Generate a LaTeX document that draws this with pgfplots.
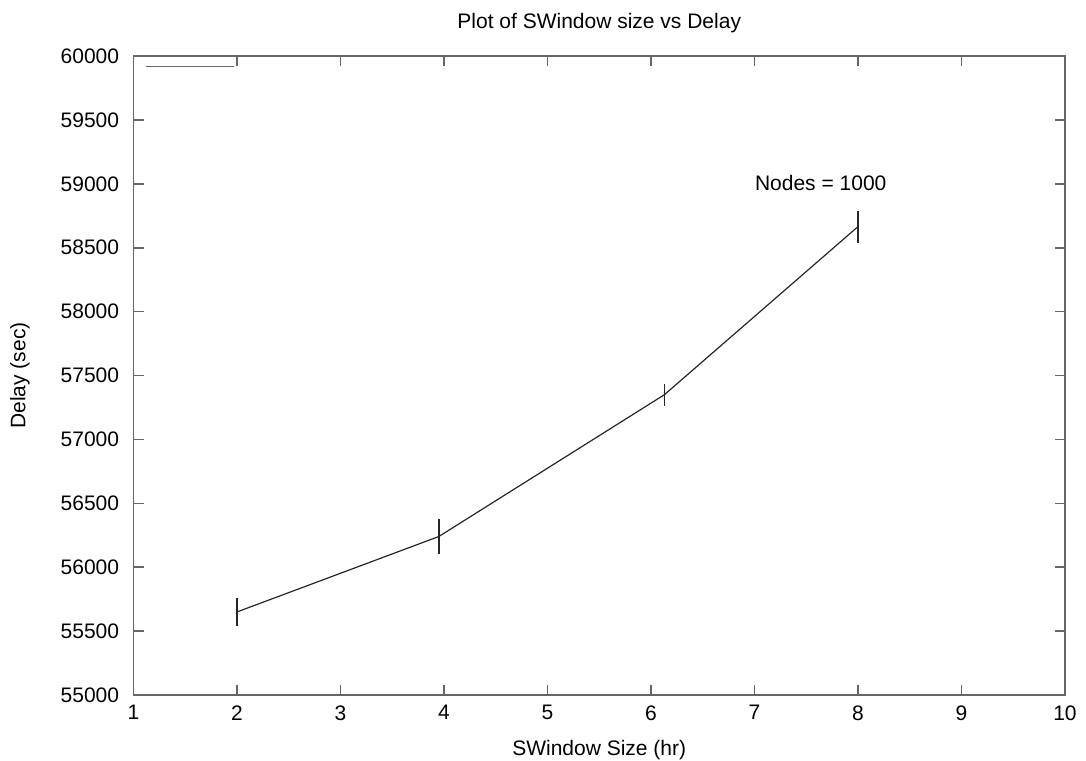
\documentclass[border=0pt]{standalone}
\usepackage{pgfplots}
\pgfplotsset{compat=1.18}
\usepackage{fontspec}
\setmainfont{Liberation Sans}
\begin{document}
\fontsize{10.5}{12.6}\selectfont
\begin{tikzpicture}
\useasboundingbox (-66.75pt,-32.5pt) rectangle (476.25pt,347.5pt);
\begin{axis}[
  at={(0,0)}, anchor=south west,
  scale only axis, width=465.75pt, height=319.5pt,
  xmin=1, xmax=10, ymin=55000, ymax=60000,
  xtick={1,...,10},
  ytick={55000,55500,...,60000},
  tick align=inside,
  major tick length=5pt,
  axis line style={draw=black!60, line width=0.9pt},
  every tick/.style={draw=black!60, line width=0.8pt},
  /pgf/number format/assume math mode=true,
  scaled y ticks=false,
  yticklabel={\pgfmathprintnumber[fixed,precision=0,1000 sep={}]{\tick}},
  ticklabel style={font=\fontsize{10.5}{12.6}\selectfont},
  yticklabel style={xshift=-3.5pt},
  xticklabel style={yshift=-1.5pt},
  title={Plot of SWindow size vs Delay},
  title style={at={(axis description cs:0.5,1)}, anchor=center, yshift=10.5pt, font=\fontsize{10.5}{12.6}\selectfont},
  xlabel={SWindow Size (hr)},
  xlabel style={at={(axis description cs:0.5,0)}, anchor=center, yshift=-27.5pt, font=\fontsize{10.5}{12.6}\selectfont},
  ylabel={Delay (sec)},
  ylabel style={at={(axis description cs:0,0.5)}, anchor=center, yshift=56.75pt, font=\fontsize{10.5}{12.6}\selectfont},
  legend style={at={(axis description cs:0,1)}, anchor=north west, draw=none, fill=none,
    inner sep=0pt, outer sep=0pt, xshift=5.75pt, yshift=-4.5pt, row sep=0pt, nodes={inner sep=0pt}},
  legend image code/.code={\draw[black!60, line width=0.8pt] (0pt,0pt) -- (44pt,0pt);},
  clip=false,
]
\addplot[black!85, line width=0.6pt,
  error bars/.cd, y dir=both, y explicit, error mark=none,
  error bar style={black!85, line width=0.8pt}]
  table[x=x, y=y, y error=e] {
x     y      e
2     55650  110
3.95  56240  140
6.13  57350  85
8.0   58665  125
};
\addlegendentry{}
\node[font=\fontsize{10.5}{12.6}\selectfont] at (axis cs:7.64,59006) {Nodes = 1000};
\end{axis}
\end{tikzpicture}
\end{document}
